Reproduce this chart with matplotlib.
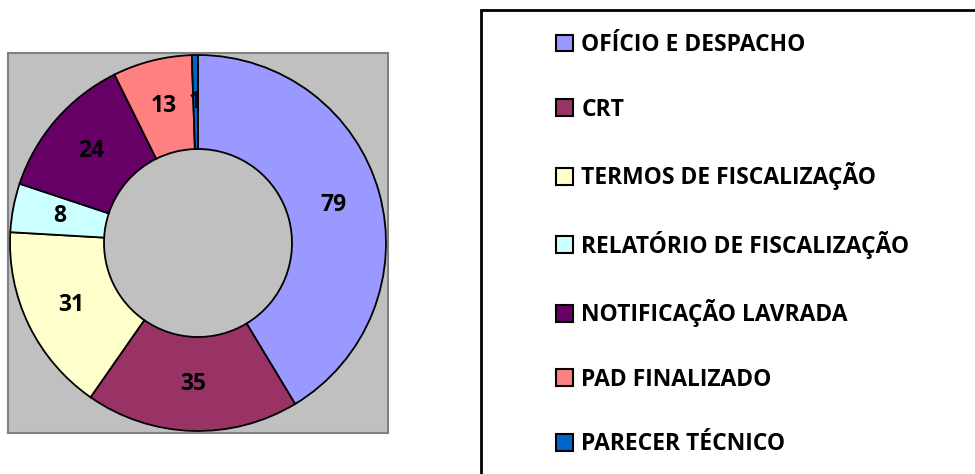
import matplotlib
import matplotlib.pyplot as plt
from matplotlib.patches import Rectangle

matplotlib.use("Agg")

plt.rcParams["font.family"] = ["Open Sans", "DejaVu Sans"]
plt.rcParams["font.weight"] = "bold"

categories = [
    "OFÍCIO E DESPACHO",
    "CRT",
    "TERMOS DE FISCALIZAÇÃO",
    "RELATÓRIO DE FISCALIZAÇÃO",
    "NOTIFICAÇÃO LAVRADA",
    "PAD FINALIZADO",
    "PARECER TÉCNICO",
]
values = [79, 35, 31, 8, 24, 13, 1]
colors = ["#9999FF", "#993366", "#FFFFCC", "#CCFFFF", "#660066", "#FF8080", "#0066CC"]

total = sum(values)

fig = plt.figure(figsize=(9.75, 4.74), dpi=100)

# donut on a grey square, like the old excel chart
W, H = 975, 474
ax = fig.add_axes([8 / W, 1 - 433 / H, 380 / W, 380 / H])
ax.set_facecolor("#C0C0C0")
for sp in ax.spines.values():
    sp.set_color("#808080")
    sp.set_linewidth(1.5)

wedges, texts, autotexts = ax.pie(
    values,
    colors=colors,
    startangle=90,
    counterclock=False,
    radius=1,
    autopct=lambda p: f"{round(p * total / 100)}",
    pctdistance=0.75,
    wedgeprops=dict(width=0.5, edgecolor="black", linewidth=1.3),
    textprops=dict(fontsize=16.5, fontweight="bold", color="black"),
)
lim = 190 / 188
ax.set_xlim(-lim, lim)
ax.set_ylim(-lim, lim)
ax.set_aspect("equal")
ax.set_xticks([])
ax.set_yticks([])
ax.set_frame_on(True)

# legend box runs off the right and bottom edges
fig.patches.append(Rectangle((481 / W, -0.05), 0.6, 1 - 10 / H + 0.05,
                             transform=fig.transFigure, facecolor="white",
                             edgecolor="black", linewidth=2, zorder=0))

leg = fig.legend(
    wedges, categories,
    loc="upper left",
    bbox_to_anchor=(556 / W, 1 - 33 / H),
    frameon=False,
    prop=dict(size=16.5, weight="bold"),
    handlelength=0.75,
    handleheight=0.75,
    handletextpad=0.35,
    labelspacing=1.77,
    borderpad=0,
    borderaxespad=0,
)
for h in leg.legend_handles:
    h.set_edgecolor("black")
    h.set_linewidth(1.5)

fig.savefig("out.png", dpi=100)
